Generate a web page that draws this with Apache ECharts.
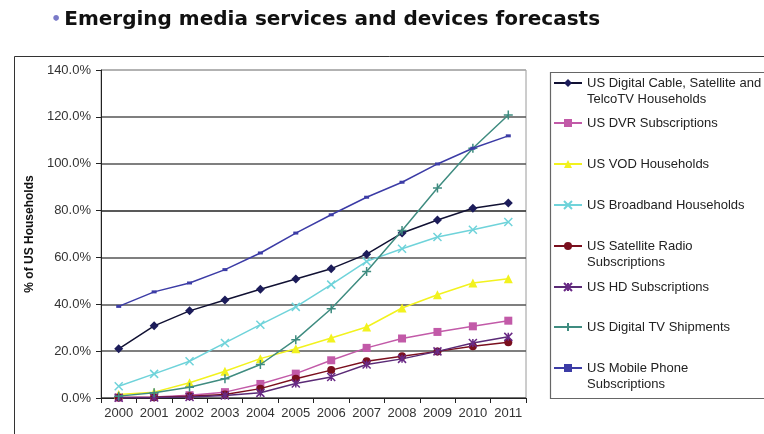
<!DOCTYPE html>
<html>
<head>
<meta charset="utf-8">
<script src="https://cdn.jsdelivr.net/npm/echarts@6/dist/echarts.min.js"></script>
<style>
  html, body { margin: 0; padding: 0; background: #fff; }
  #chart { width: 764px; height: 434px; }
</style>
</head>
<body>
<div id="chart"></div>
<script>
// years on the x axis
const years = ['2000', '2001', '2002', '2003', '2004', '2005', '2006', '2007', '2008', '2009', '2010', '2011'];

// series values, % of US households
const digitalCable = [21, 30.8, 37.2, 41.8, 46.4, 50.8, 55.2, 61.4, 70.4, 76, 81, 83.2];
const dvrSubs = [0.2, 0.4, 1.2, 2.5, 6, 10.4, 16.1, 21.4, 25.4, 28.2, 30.6, 33];
const vodHouseholds = [1.5, 2.5, 6.5, 11.4, 16.8, 21, 25.6, 30.3, 38.4, 44.1, 49.1, 50.9];
const broadband = [5, 10.3, 15.7, 23.5, 31.3, 38.9, 48.4, 58.3, 63.7, 68.7, 71.8, 75.1];
const satRadio = [0.2, 0.3, 0.7, 1.5, 4, 8.2, 11.9, 15.7, 17.8, 19.9, 22.1, 23.8];
const hdSubs = [0.1, 0.2, 0.4, 1.1, 2.2, 6.2, 9, 14.3, 16.7, 19.9, 23.5, 26.1];
const digitalTv = [0.8, 2.2, 4.6, 8.2, 14.3, 24.9, 38.1, 54, 71.5, 89.6, 106.6, 120.8];
const mobilePhone = [39.1, 45.3, 49.1, 54.8, 61.9, 70.4, 78.2, 85.7, 92.1, 99.9, 106.6, 111.9];

const seriesNames = [
    'US Digital Cable, Satellite and\nTelcoTV Households',
    'US DVR Subscriptions',
    'US VOD Households',
    'US Broadband Households',
    'US Satellite Radio\nSubscriptions',
    'US HD Subscriptions',
    'US Digital TV Shipments',
    'US Mobile Phone\nSubscriptions'
];
const seriesData = [digitalCable, dvrSubs, vodHouseholds, broadband, satRadio, hdSubs, digitalTv, mobilePhone];

// styling per series
const colors = ['#1c1c5a', '#c25aa8', '#f2f21e', '#6fd3da', '#7a0f1e', '#6a2a86', '#3f8c80', '#3c3ca6'];
const lineColors = ['#111133', '#c25aa8', '#f2f21e', '#6fd3da', '#7a0f1e', '#5a2a76', '#3f8c80', '#3c3ca6'];
const symbols = [
    'diamond', 'rect', 'triangle',
    'path://M0,0L10,10M10,0L0,10',
    'circle',
    'path://M0,0L10,10M10,0L0,10M5,0L5,10',
    'path://M5,0L5,10M0,5L10,5',
    'rect'
];
const symbolSizes = [9, 8, 9, 8, 8, 8, 9, [5, 3]];
const strokeSymbols = [false, false, false, true, false, true, true, false];

// legend rows: centre of the marker for each entry
const legendIconY = [83, 123, 164, 205, 246, 287, 327, 368];
const lineH = 16;

const chart = echarts.init(document.getElementById('chart'));

const legends = seriesNames.map(function (name, i) {
    const multi = name.indexOf('\n') >= 0;
    const lines = multi ? 3 : 1;
    return {
        data: [name],
        orient: 'vertical',
        left: 553,
        top: legendIconY[i] - lines * lineH / 2,
        padding: 0,
        itemWidth: 28,
        itemHeight: 10,
        selectedMode: false,
        formatter: function (n) { return n.indexOf('\n') >= 0 ? '\n' + n : n; },
        textStyle: { fontFamily: 'Liberation Sans', fontSize: 13, color: '#222', lineHeight: lineH }
    };
});

const series = seriesNames.map(function (name, i) {
    return {
        name: name,
        type: 'line',
        data: seriesData[i],
        symbol: symbols[i],
        symbolSize: symbolSizes[i],
        showAllSymbol: true,
        lineStyle: { color: lineColors[i], width: 1.5 },
        itemStyle: strokeSymbols[i]
            ? { color: colors[i], borderColor: colors[i], borderWidth: 1.5 }
            : { color: colors[i], borderWidth: 0 },
        emphasis: { disabled: true },
        z: 3 + i
    };
});

const option = {
    animation: false,
    backgroundColor: '#fff',
    title: {
        text: '{b|•}{t|Emerging media services and devices forecasts}',
        left: 46,
        top: 5,
        textStyle: {
            rich: {
                b: { color: '#7a7ac8', fontSize: 16, fontFamily: 'DejaVu Sans', padding: [0, 3, 0, 0] },
                t: { color: '#111', fontSize: 20, fontWeight: 'bold', fontFamily: 'DejaVu Sans' }
            }
        }
    },
    graphic: [
        {
            type: 'rect', left: 12, top: 54, z: -1,
            shape: { width: 800, height: 420 },
            style: { fill: 'none', stroke: '#333', lineWidth: 1 }
        },
        {
            type: 'rect', left: 548, top: 70, z: -1,
            shape: { width: 300, height: 326 },
            style: { fill: 'none', stroke: '#666', lineWidth: 1.2 }
        }
    ],
    legend: legends,
    grid: {
        left: 101,
        right: 238,
        top: 70,
        bottom: 36,
        show: true,
        borderColor: '#9a9a9a',
        borderWidth: 1
    },
    xAxis: {
        type: 'category',
        data: years,
        boundaryGap: true,
        axisLine: { lineStyle: { color: '#222', width: 1 } },
        axisTick: { show: true, length: 5, lineStyle: { color: '#222' } },
        axisLabel: { interval: 0, fontFamily: 'Liberation Sans', fontSize: 13, color: '#333', margin: 9 }
    },
    yAxis: {
        type: 'value',
        min: 0,
        max: 140,
        interval: 20,
        name: '% of US Households',
        nameLocation: 'middle',
        nameGap: 60,
        nameTextStyle: { fontFamily: 'Liberation Sans', fontSize: 12, fontWeight: 'bold', color: '#111' },
        axisLine: { show: true, lineStyle: { color: '#222', width: 1 } },
        axisTick: { show: true, length: 5, lineStyle: { color: '#222' } },
        axisLabel: {
            fontFamily: 'Liberation Sans', fontSize: 13, color: '#333', margin: 10,
            formatter: function (v) { return v.toFixed(1) + '%'; }
        },
        splitLine: {
            show: true,
            lineStyle: {
                color: ['#555', '#555', '#555', '#555', '#222', '#555', '#555', '#aaa'],
                width: 1.5
            }
        }
    },
    series: series
};

chart.setOption(option);
</script>
</body>
</html>
